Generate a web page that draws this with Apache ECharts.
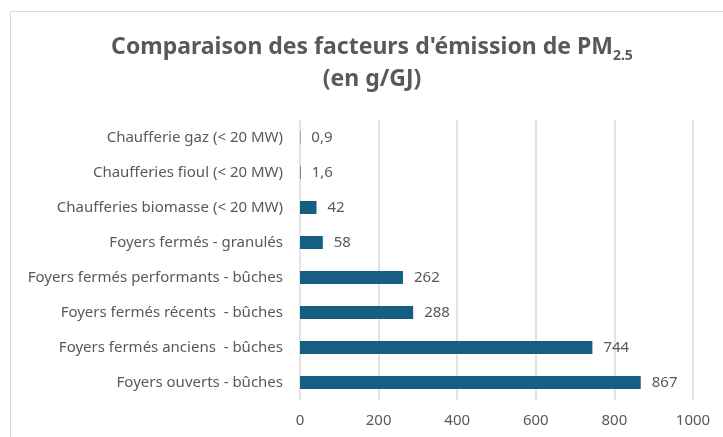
<!DOCTYPE html>
<html>
<head>
<meta charset="utf-8">
<script src="https://cdn.jsdelivr.net/npm/echarts@6/dist/echarts.min.js"></script>
<style>
  html, body { margin: 0; padding: 0; background: #fff; }
  #chart { width: 723px; height: 437px; }
</style>
</head>
<body>
<div id="chart"></div>
<script>
// categories top to bottom
const categories = [
  'Chaufferie gaz (< 20 MW)',
  'Chaufferies fioul (< 20 MW)',
  'Chaufferies biomasse (< 20 MW)',
  'Foyers fermés - granulés',
  'Foyers fermés performants - bûches',
  'Foyers fermés récents  - bûches',
  'Foyers fermés anciens  - bûches',
  'Foyers ouverts - bûches'
];
const emissions = [0.9, 1.6, 42, 58, 262, 288, 744, 867];
const xTicks = [0, 200, 400, 600, 800, 1000];

const textColor = '#595959';
const fontFamily = '"Noto Sans", "Liberation Sans", sans-serif';

const chart = echarts.init(document.getElementById('chart'));

chart.setOption({
  animation: false,
  textStyle: { fontFamily: fontFamily },
  title: {
    left: 367,
    top: 26,
    textAlign: 'center',
    text: '{t|Comparaison des facteurs d\'émission de PM}{s|2.5}\n{t|(en g/GJ)}',
    textStyle: {
      rich: {
        t: { fontSize: 23, fontWeight: 'bold', color: textColor, fontFamily: fontFamily, lineHeight: 32 },
        s: { fontSize: 14, fontWeight: 'bold', color: textColor, fontFamily: fontFamily, verticalAlign: 'bottom', padding: [14, 0, 0, 0], lineHeight: 32 }
      }
    }
  },
  graphic: [
    { type: 'line', shape: { x1: 10.5, y1: 11.5, x2: 723, y2: 11.5 }, style: { stroke: '#d9d9d9', lineWidth: 1 } },
    { type: 'line', shape: { x1: 10.5, y1: 11.5, x2: 10.5, y2: 437 }, style: { stroke: '#d9d9d9', lineWidth: 1 } }
  ],
  grid: { left: 300, top: 120, width: 393, height: 280, containLabel: false },
  xAxis: {
    type: 'value',
    min: xTicks[0],
    max: xTicks[xTicks.length - 1],
    interval: 200,
    axisLine: { show: false },
    axisTick: { show: false },
    splitLine: { lineStyle: { color: '#d9d9d9', width: 1.5 } },
    axisLabel: { color: textColor, fontSize: 15, margin: 13, formatter: v => String(v) }
  },
  yAxis: {
    type: 'category',
    data: categories,
    inverse: true,
    axisLine: { show: false },
    axisTick: { show: false },
    axisLabel: { color: textColor, fontSize: 15, margin: 17 }
  },
  series: [{
    type: 'bar',
    data: emissions,
    barWidth: 13,
    itemStyle: { color: '#156082' },
    label: {
      show: true,
      position: 'right',
      distance: 11,
      color: textColor,
      fontSize: 15,
      formatter: p => String(p.value).replace('.', ',')
    }
  }]
});
</script>
</body>
</html>
